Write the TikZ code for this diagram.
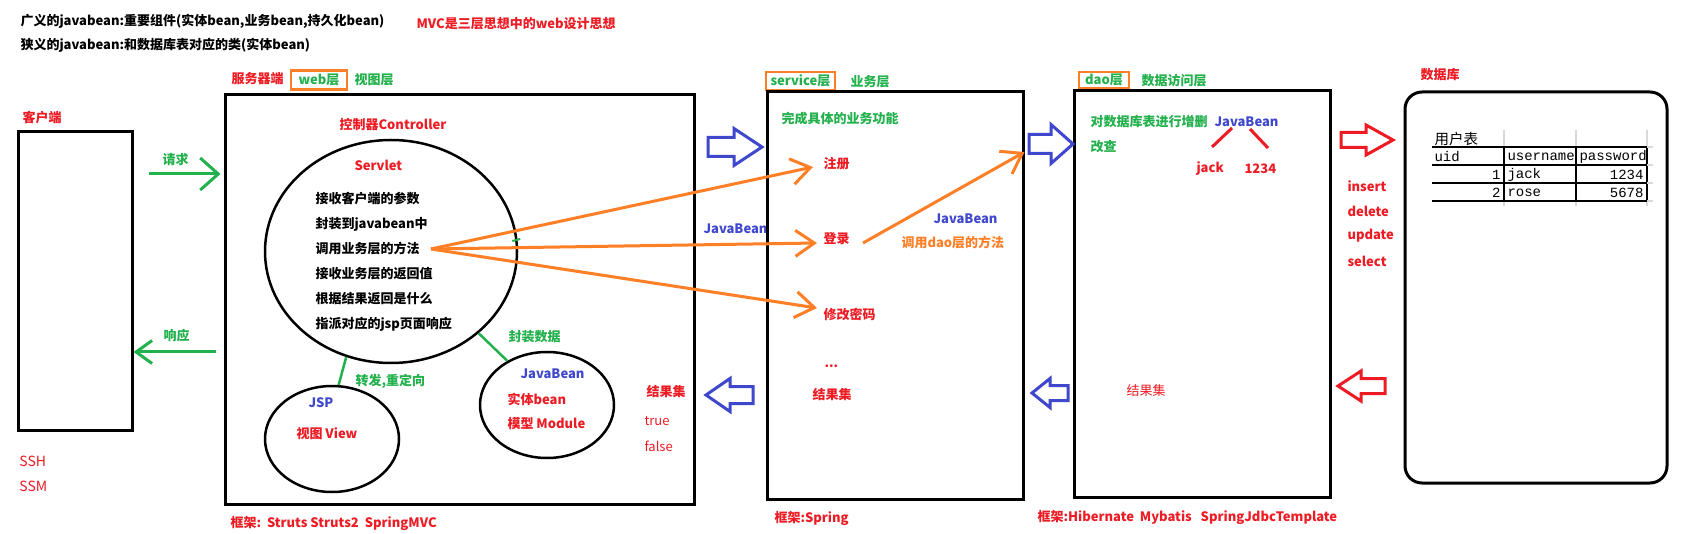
\documentclass[tikz,border=0pt]{standalone}
\usepackage{fontspec}
\setmainfont{Noto Sans CJK SC}
\newfontfamily\tabfont{Liberation Mono}
\usetikzlibrary{shapes.geometric, arrows.meta}
\definecolor{pred}{RGB}{237, 28, 36}
\definecolor{pgreen}{RGB}{34, 177, 76}
\definecolor{pblue}{RGB}{63, 72, 204}
\definecolor{porange}{RGB}{255, 127, 39}
% hollow block arrow: style, tail x, neck x, tip x, mid y, shaft half, head half
\newcommand{\fatarrow}[7]{%
  \draw[#1] (#2, #5-#6) -- (#3, #5-#6) -- (#3, #5-#7) -- (#4, #5)
    -- (#3, #5+#7) -- (#3, #5+#6) -- (#2, #5+#6) -- cycle;}

\begin{document}
\begin{tikzpicture}[x=1pt, y=-1pt, line width=3pt,
  txt/.style={inner sep=0pt, anchor=west, font=\bfseries\fontsize{13}{15}\selectfont},
  plain/.style={inner sep=0pt, anchor=west, font=\fontsize{13}{15}\selectfont},
  box/.style={draw, rectangle, inner sep=0pt, line width=3pt},
  oval/.style={draw, ellipse, inner sep=0pt, line width=2.5pt},
  layer/.style={txt, anchor=center, draw=porange, line width=2.5pt, text=pgreen},
  cell/.style={inner sep=0pt, anchor=west, font=\tabfont\fontsize{14}{16}\selectfont},
  garrow/.style={pgreen, line width=3pt, -{Straight Barb[length=18pt, width=32pt]}},
  oarrow/.style={porange, line width=3pt, -{Straight Barb[length=19pt, width=26pt]}}]

  \fill[white] (0, 0) rectangle (1686, 534);
  \useasboundingbox (0, 0) rectangle (1686, 534);

  % notes on top
  \node[txt] (t1) at (19, 21) {广义的javabean:重要组件(实体bean,业务bean,持久化bean)};
  \node[txt] (t2) at (19, 45) {狭义的javabean:和数据库表对应的类(实体bean)};
  \node[txt, pred] (mvc) at (415, 24) {MVC是三层思想中的web设计思想};

  % client
  \node[txt, pred] (clientlbl) at (21, 118) {客户端};
  \node[box, minimum width=114pt, minimum height=298pt] (client) at (75, 281) {};
  \node[plain, pred, font=\fontsize{14}{16}\selectfont] (ssh) at (18, 461) {SSH};
  \node[plain, pred, font=\fontsize{14}{16}\selectfont] (ssm) at (18, 486) {SSM};

  % web layer
  \node[txt, pred] (server) at (230, 79) {服务器端};
  \node[layer, minimum width=56pt, minimum height=19pt] (weblayer) at (319, 80) {web层};
  \node[txt, pgreen] (webname) at (353, 80) {视图层};
  \node[box, minimum width=469pt, minimum height=409pt] (web) at (459.5, 299.5) {};
  \node[txt, pred] (webfw) at (229, 523) {框架:\ \ Struts Struts2\ \ SpringMVC};

  \node[txt, pgreen] (req) at (161, 160) {请求};
  \node[txt, pgreen] (resp) at (162, 336) {响应};
  \draw[garrow] ([xshift=15pt, yshift=107pt]client.east) -- ([xshift=-3pt, yshift=125.5pt]web.west);
  \draw[pgreen, line width=3pt, -{Straight Barb[length=16pt, width=23pt]}]
    ([xshift=-8pt, yshift=-52.5pt]web.west) -- ([yshift=-71pt]client.east);

  \node[txt, pred] (ctrl) at (338, 125) {控制器Controller};
  \node[oval, minimum width=252pt, minimum height=223pt] (servlet) at (391, 251.5) {};
  \node[txt, pred] (servletlbl) at (353, 165) {Servlet};
  \foreach \t [count=\i] in {接收客户端的参数, 封装到javabean中, 调用业务层的方法,
      接收业务层的返回值, 根据结果返回是什么, 指派对应的jsp页面响应}
    \node[txt] (m\i) at (314, 174+25*\i) {\t};

  \node[oval, minimum width=134pt, minimum height=106pt] (jsp) at (332, 439) {};
  \node[txt, pblue] (jsplbl) at (307, 403) {JSP};
  \node[txt, pred] (viewlbl) at (295, 434) {视图 View};
  \node[txt, pgreen] (fwd) at (354, 381) {转发,重定向};
  \draw[pgreen, line width=2.5pt] (servlet.247) -- (jsp.83);

  \node[oval, minimum width=134pt, minimum height=106pt] (bean) at (547, 405) {};
  \node[txt, pblue] (beanlbl) at (519, 374) {JavaBean};
  \node[txt, pred] (entity) at (506, 399) {实体bean};
  \node[txt, pred] (model) at (506, 424) {模型 Module};
  \node[txt, pgreen] (pack) at (507, 337) {封装数据};
  \draw[pgreen, line width=2.5pt] (servlet.317) -- (bean.132);
  \draw[pgreen, line width=2pt] ([xshift=-6pt, yshift=10.5pt]servlet.east) -- ++(8, -2);

  \node[txt, pred] (webres) at (645, 392) {结果集};
  \node[plain, pred] (true) at (643, 421) {true};
  \node[plain, pred] (false) at (643, 446) {false};
  \node[txt, pblue] (midbean) at (702, 229) {JavaBean};

  % service layer
  \node[layer, minimum width=69pt, minimum height=18pt] (srvlayer) at (800.5, 81) {service层};
  \node[txt, pgreen] (srvname) at (849, 82) {业务层};
  \node[box, minimum width=256pt, minimum height=407pt] (service) at (895, 295.5) {};
  \node[txt, pred] (srvfw) at (773, 518) {框架:Spring};
  \node[txt, pgreen] (srvdesc) at (780, 119) {完成具体的业务功能};
  \node[txt, pred] (reg) at (822, 164) {注册};
  \node[txt, pred] (login) at (822, 239) {登录};
  \node[txt, pred] (pwd) at (822, 314) {修改密码};
  \node[txt, pred] (dots) at (823, 366) {...};
  \node[txt, pred] (srvres) at (811, 395) {结果集};
  \node[txt, pblue] (srvbean) at (932, 219) {JavaBean};
  \node[txt, porange] (daocall) at (900, 243) {调用dao层的方法};

  \coordinate (call) at ([xshift=10pt]m3.east);
  \draw[oarrow] (call) -- ([xshift=-9pt, yshift=-3pt]reg.west);
  \draw[oarrow] (call) -- ([xshift=-5pt, yshift=-4pt]login.west);
  \draw[oarrow] (call) -- ([xshift=-5pt, yshift=6pt]pwd.west);
  \draw[oarrow] ([xshift=12pt, yshift=-4pt]login.east) -- ([yshift=143.5pt]service.east);

  \fatarrow{pblue}{708}{734}{762}{147}{9.5}{18.5}
  \fatarrow{pblue}{753}{730}{706}{395}{8.5}{16.5}

  % dao layer
  \node[layer, minimum width=50pt, minimum height=16pt] (daolayer) at (1104, 80) {dao层};
  \node[txt, pgreen] (daoname) at (1140, 81) {数据访问层};
  \node[box, minimum width=256pt, minimum height=406pt] (dao) at (1202, 294) {};
  \node[txt, pred] (daofw) at (1036, 517) {框架:Hibernate\ \ Mybatis\ \ \ SpringJdbcTemplate};
  \node[txt, pgreen] (daodesc) at (1089, 122) {对数据库表进行增删};
  \node[txt, pgreen] (daodesc2) at (1089, 147) {改查};
  \node[txt, pblue] (daojb) at (1213, 122) {JavaBean};
  \node[txt, pred] (jack) at (1195, 169) {jack};
  \node[txt, pred] (pw) at (1243, 169) {1234};
  \draw[pred] ([xshift=19pt, yshift=-6pt]daojb.west) -- ([xshift=17pt, yshift=22pt]jack.west);
  \draw[pred] ([xshift=37pt, yshift=-7pt]daojb.west) -- ([xshift=25pt, yshift=21pt]pw.west);
  \node[plain, pred] (daores) at (1125, 391) {结果集};

  \fatarrow{pblue}{1029}{1051}{1073}{144}{9.5}{19.5}
  \fatarrow{pblue}{1068}{1050}{1032}{393}{7.5}{14.5}

  % database
  \node[txt, pred] (dblbl) at (1419, 75) {数据库};
  \node[box, rounded corners=17pt, minimum width=262pt, minimum height=391pt] (db) at (1536, 287.5) {};
  \foreach \t [count=\i] in {insert, delete, update, select}
    \node[txt, pred] (sql\i) at (1346, 161+25*\i) {\t};
  \fatarrow{pred}{1341}{1366}{1393}{140}{7.5}{15}
  \fatarrow{pred}{1385}{1361}{1338}{386}{7.5}{15}

  % user table
  \foreach \x in {1504, 1576, 1647} {
    \draw[black!15, line width=1.2pt] (\x, 130) -- (\x, 147);
    \draw[black!15, line width=1.2pt] (\x, 201) -- (\x, 206);
    \draw[line width=1.2pt] (\x, 147) -- (\x, 201);
  }
  \foreach \y in {147, 165, 183, 201} {
    \draw[line width=1.2pt] (1432, \y) -- (1647, \y);
    \draw[black!15, line width=1.2pt] (1647, \y) -- (1653, \y);
  }
  \node[inner sep=0pt, anchor=west, font=\fontsize{14.5}{16}\selectfont] (tname) at (1433, 139) {用户表};
  \node[cell] (huid) at (1433, 157) {uid};
  \node[cell] (huser) at (1506, 157) {username};
  \node[cell] (hpass) at (1578, 157) {password};
  \node[cell, anchor=east] (uid1) at (1502, 175) {1};
  \node[cell] (user1) at (1506, 175) {jack};
  \node[cell, anchor=east] (pass1) at (1645, 175) {1234};
  \node[cell, anchor=east] (uid2) at (1502, 193) {2};
  \node[cell] (user2) at (1506, 193) {rose};
  \node[cell, anchor=east] (pass2) at (1645, 193) {5678};

\end{tikzpicture}
\end{document}
